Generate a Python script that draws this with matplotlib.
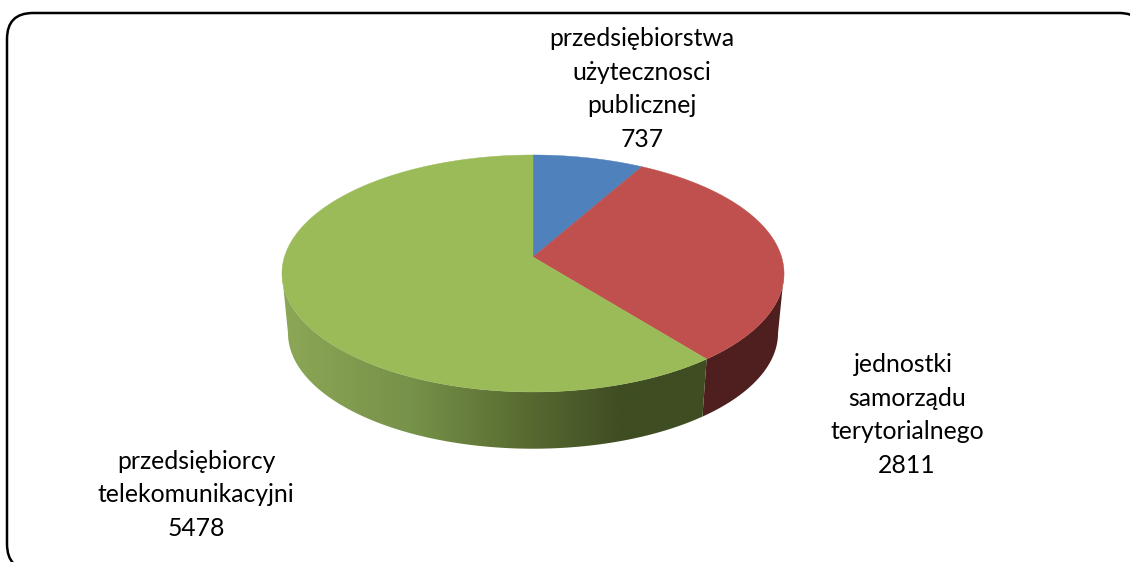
import numpy as np
import matplotlib
matplotlib.use("Agg")
import matplotlib.pyplot as plt
from matplotlib.patches import FancyBboxPatch, Polygon
from matplotlib.colors import LinearSegmentedColormap

names = ["przedsiębiorstwa\nużytecznosci\npublicznej",
         "jednostki \nsamorządu\nterytorialnego",
         "przedsiębiorcy\ntelekomunikacyjni"]
values = [737, 2811, 5478]
colors = ["#4f81bd", "#c0504d", "#9bbb59"]
label_pos = [(642, 89), (907, 415), (196, 495)]

plt.rcParams["font.family"] = ["Lato", "DejaVu Sans"]

# pixel-sized canvas
fig = plt.figure(figsize=(11.3, 5.62), dpi=100)
ax = fig.add_axes([0, 0, 1, 1])
ax.set_xlim(0, 1130)
ax.set_ylim(562, 0)
ax.axis("off")

# perspective of the disc, angles run clockwise from 12 o'clock
k = 0.139
cx, cy = 533, 257
a, b = 248.6, 116.2
depth = 60
shrink = 0.976
# where the rim turns back, the wall's outline starts here
turn = np.degrees(np.arcsin(k))


def rim(t0, t1, scale=1.0, dy=0.0):
    t = np.radians(np.linspace(t0, t1, 300))
    X, Y = np.sin(t), np.cos(t)
    d = 1 + k * Y
    return np.column_stack([cx + scale * a * X / d,
                            cy + dy - scale * b * Y / d])


def side(t0, t1):
    return np.vstack([rim(t0, t1), rim(t0, t1, shrink, depth)[::-1]])


shares = np.array(values) / sum(values) * 360
edges = np.concatenate([[0], np.cumsum(shares)])

# outer frame runs past the right and bottom edges of the canvas
ax.add_patch(FancyBboxPatch((7, 13), 1138, 557,
                            boxstyle="round,pad=0,rounding_size=26",
                            fc="white", ec="black", lw=1.8, zorder=1))

# walls: only the part facing the viewer
ax.add_patch(Polygon(side(90 + turn, edges[2]), closed=True, fc="#4f1f1f", ec="none", zorder=2))

wall_cmap = LinearSegmentedColormap.from_list(
    "wall", [(0, "#8ca756"), (0.3, "#779249"), (0.55, "#5a6e33"),
             (0.8, "#3f4d22"), (1, "#3f4d22")])
wall = Polygon(side(edges[2], 270 - turn), closed=True, fc="none", ec="none", zorder=3)
ax.add_patch(wall)
grad = ax.imshow(np.linspace(0, 1, 512)[None, :], cmap=wall_cmap, aspect="auto",
                 extent=(282, 708, 562, 0), zorder=3)
grad.set_clip_path(wall)
ax.set_xlim(0, 1130)
ax.set_ylim(562, 0)

# top face
for i, c in enumerate(colors):
    pts = np.vstack([[cx, cy], rim(edges[i], edges[i + 1])])
    ax.add_patch(Polygon(pts, closed=True, fc=c, ec=c, lw=0.3, zorder=4))

for name, v, (x, y) in zip(names, values, label_pos):
    ax.text(x, y, f"{name}\n{v}", ha="center", va="center", fontsize=17.8,
            linespacing=1.56, color="black", zorder=5)

fig.savefig("out.png", dpi=100, facecolor="white")
